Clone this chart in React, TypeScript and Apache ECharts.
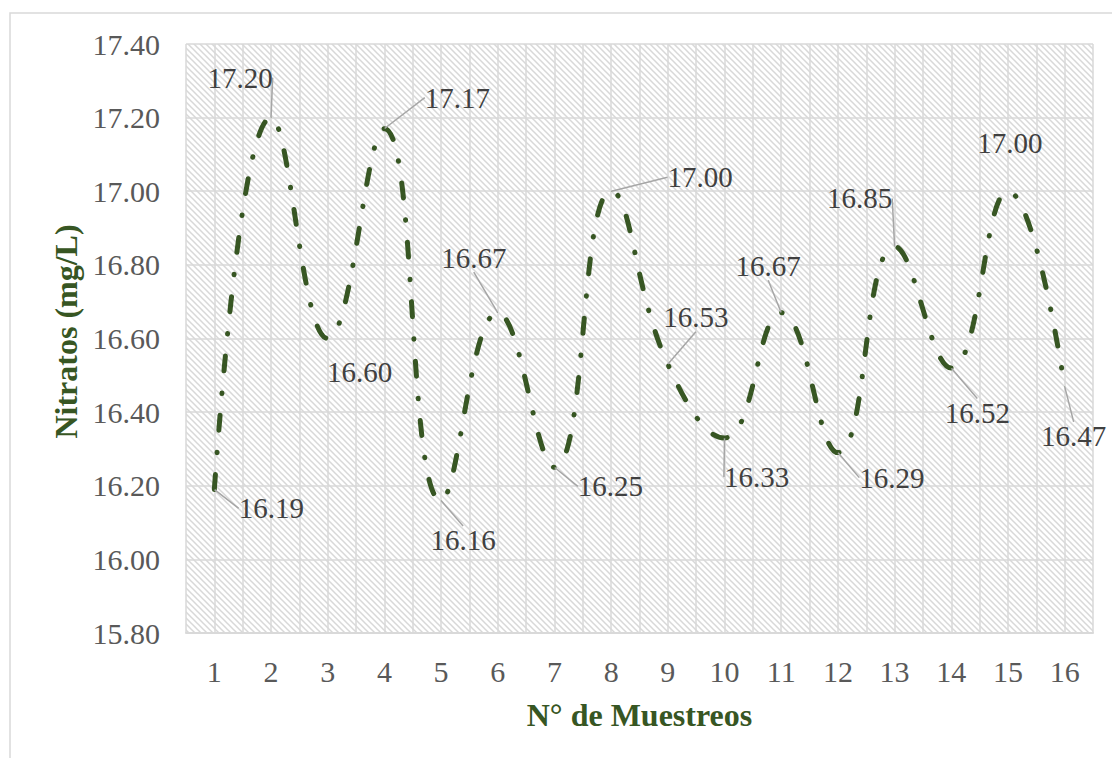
import React, { useEffect, useRef } from "react";
import * as echarts from "echarts";

// Sample number (N° de Muestreo) and measured nitrate concentration (mg/L)
const samples = [1, 2, 3, 4, 5, 6, 7, 8, 9, 10, 11, 12, 13, 14, 15, 16];
const nitrates = [
  16.19, 17.2, 16.6, 17.17, 16.16, 16.67, 16.25, 17.0, 16.53, 16.33, 16.67,
  16.29, 16.85, 16.52, 17.0, 16.47,
];
const yTicks = { min: 15.8, max: 17.4, step: 0.2 };
const xTitle = "N° de Muestreos";
const yTitle = "Nitratos (mg/L)";

// Where each value label sits relative to its point (pixels)
const labelOffsets: [number, number][] = [
  [57, 19], [-31, -40], [32, 33], [73, -31], [22, 40], [-24, -55],
  [56, 19], [89, -14], [28, -47], [32, 39], [-13, -47], [54, 25],
  [-35, -48], [26, 45], [2, -48], [9, 50],
];
// Labels close enough to their point that no leader line is drawn
const noLeader = new Set([2, 14]);

const SERIF = "'Liberation Serif', 'Times New Roman', serif";
const GREEN = "#375623";
const GRID_GRAY = "#d9d9d9";

// Small tile for the hatched plot-area fill
function makeHatch(): HTMLCanvasElement {
  const s = 6;
  const c = document.createElement("canvas");
  c.width = s;
  c.height = s;
  const ctx = c.getContext("2d")!;
  ctx.fillStyle = "#ffffff";
  ctx.fillRect(0, 0, s, s);
  ctx.strokeStyle = "#d8d8d8";
  ctx.lineWidth = 1.5;
  ctx.beginPath();
  ctx.moveTo(-1, -1);
  ctx.lineTo(s + 1, s + 1);
  ctx.moveTo(-1, s - 1);
  ctx.lineTo(1, s + 1);
  ctx.moveTo(s - 1, -1);
  ctx.lineTo(s + 1, 1);
  ctx.stroke();
  return c;
}

export default function App() {
  const ref = useRef<HTMLDivElement>(null);

  useEffect(() => {
    if (!ref.current) return;
    const chart = echarts.init(ref.current, null, { renderer: "svg" });

    const points = samples.map((s, i) => ({
      value: [s, nitrates[i]],
      labelLine: { show: !noLeader.has(i) },
    }));

    chart.setOption({
      animation: false,
      textStyle: { fontFamily: SERIF },
      graphic: [
        {
          type: "rect",
          shape: { x: 10, y: 13, width: 1130, height: 780 },
          style: { fill: "none", stroke: GRID_GRAY, lineWidth: 1.5 },
          silent: true,
        },
      ],
      grid: {
        left: 186,
        top: 44,
        width: 907,
        height: 589,
        show: true,
        borderWidth: 0,
        backgroundColor: { image: makeHatch(), repeat: "repeat" },
      },
      xAxis: {
        type: "value",
        min: 0.5,
        max: 16.5,
        interval: 0.5,
        axisLine: { show: true, lineStyle: { color: GRID_GRAY, width: 2 } },
        axisTick: { show: false },
        splitLine: { show: true, lineStyle: { color: GRID_GRAY, width: 1.5 } },
        axisLabel: {
          color: "#595959",
          fontSize: 30,
          fontFamily: SERIF,
          margin: 23,
          formatter: (v: number) => (Number.isInteger(v) ? String(v) : ""),
        },
        name: xTitle,
        nameLocation: "middle",
        nameGap: 66,
        nameTextStyle: {
          color: GREEN,
          fontSize: 32,
          fontWeight: "bold",
          fontFamily: SERIF,
        },
      },
      yAxis: {
        type: "value",
        min: yTicks.min,
        max: yTicks.max,
        interval: yTicks.step,
        axisLine: { show: false },
        axisTick: { show: false },
        splitLine: { show: true, lineStyle: { color: GRID_GRAY, width: 1.5 } },
        axisLabel: {
          color: "#595959",
          fontSize: 30,
          fontFamily: SERIF,
          margin: 26,
          formatter: (v: number) => v.toFixed(2),
        },
        name: yTitle,
        nameLocation: "middle",
        nameRotate: 90,
        nameGap: 86,
        nameTextStyle: {
          color: GREEN,
          fontSize: 32,
          fontWeight: "bold",
          fontFamily: SERIF,
          padding: [0, 0, 0, 14],
        },
      },
      series: [
        {
          type: "line",
          data: points,
          smooth: 0.45,
          symbol: "circle",
          symbolSize: 0.5,
          showSymbol: true,
          showAllSymbol: true,
          itemStyle: { color: GREEN },
          lineStyle: {
            color: GREEN,
            width: 5,
            type: [15, 22, 0.5, 22],
            cap: "round",
          },
          emphasis: { disabled: true },
          label: {
            show: true,
            position: "inside",
            align: "center",
            verticalAlign: "middle",
            color: "#404040",
            fontSize: 29,
            fontFamily: SERIF,
            formatter: (p: any) => p.value[1].toFixed(2),
          },
          labelLine: {
            show: true,
            lineStyle: { color: "#a6a6a6", width: 1.5 },
          },
          labelLayout: (p: any) => ({
            dx: labelOffsets[p.dataIndex][0],
            dy: labelOffsets[p.dataIndex][1],
          }),
        },
      ],
    });

    return () => chart.dispose();
  }, []);

  return (
    <div
      ref={ref}
      style={{
        position: "fixed",
        left: 0,
        top: 0,
        width: 1112,
        height: 758,
        background: "#ffffff",
      }}
    />
  );
}
